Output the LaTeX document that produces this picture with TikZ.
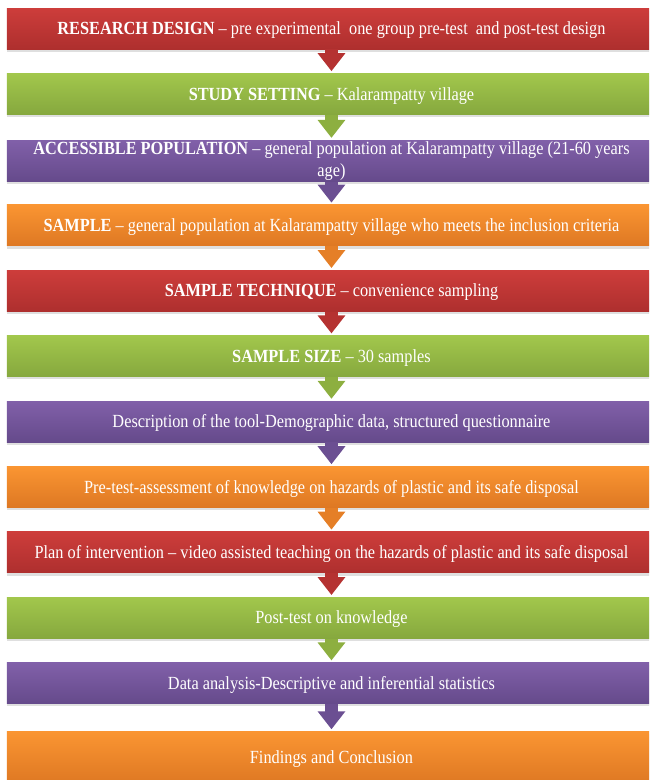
\documentclass[tikz,border=0pt]{standalone}
\usepackage{fontspec}
\setmainfont[FakeStretch=0.88]{Liberation Serif}
\usetikzlibrary{positioning,shadows,arrows.meta}
\definecolor{redtop}{HTML}{CD3D3B}
\definecolor{redbot}{HTML}{AE2F2E}
\definecolor{redarr}{HTML}{B53231}
\definecolor{greentop}{HTML}{A2C74C}
\definecolor{greenbot}{HTML}{86A83E}
\definecolor{greenarr}{HTML}{8DAF40}
\definecolor{purpletop}{HTML}{8160A9}
\definecolor{purplebot}{HTML}{654A8B}
\definecolor{purplearr}{HTML}{6B4F92}
\definecolor{orangetop}{HTML}{FA9532}
\definecolor{orangebot}{HTML}{DE7823}
\definecolor{orangearr}{HTML}{E57F27}

\begin{document}
\begin{tikzpicture}[
box/.style={minimum width=486.75pt, minimum height=30.75pt, inner sep=1pt,
  text=white, align=center, font=\fontsize{13.9pt}{16.5pt}\selectfont,
  text height=9.2pt, text depth=0pt,
  drop shadow={shadow xshift=0pt, shadow yshift=-2pt, opacity=0.25}},
redbox/.style={box, top color=redtop, bottom color=redbot},
greenbox/.style={box, top color=greentop, bottom color=greenbot},
purplebox/.style={box, top color=purpletop, bottom color=purplebot},
orangebox/.style={box, top color=orangetop, bottom color=orangebot},
flow/.style={line width=10pt, shorten >=1.5pt, -{Triangle[width=20pt,length=13.5pt]}},
node distance=17.9pt]
\clip (0,0) rectangle (486.75pt,-585pt);
\node[redbox](s1) at (248.6pt,-21.4pt) {\textbf{RESEARCH DESIGN} -- pre experimental\ \ one group pre-test\ \ and post-test design};
\node[greenbox, below=of s1](s2) {\textbf{STUDY SETTING} -- Kalarampatty village};
\node[purplebox, text height={}, text depth={}, yshift=-1pt, below=of s2](s3) {\textbf{ACCESSIBLE POPULATION} -- general population at Kalarampatty village (21-60 years\\ age)};
\node[orangebox, below=17pt of s3](s4) {\textbf{SAMPLE} -- general population at Kalarampatty village who meets the inclusion criteria};
\node[redbox, below=of s4](s5) {\textbf{SAMPLE TECHNIQUE} -- convenience sampling};
\node[greenbox, below=of s5](s6) {\textbf{SAMPLE SIZE} -- 30 samples};
\node[purplebox, below=of s6](s7) {Description of the tool-Demographic data, structured questionnaire};
\node[orangebox, below=of s7](s8) {Pre-test-assessment of knowledge on hazards of plastic and its safe disposal};
\node[redbox, below=of s8](s9) {Plan of intervention -- video assisted teaching on the hazards of plastic and its safe disposal};
\node[greenbox, below=of s9](s10) {Post-test on knowledge};
\node[purplebox, below=of s10](s11) {Data analysis-Descriptive and inferential statistics};
\node[orangebox, minimum height=39pt, below=20.5pt of s11](s12) {Findings and Conclusion};
\draw[flow, redarr](s1)--(s2);
\draw[flow, greenarr](s2)--(s3);
\draw[flow, purplearr](s3)--(s4);
\draw[flow, orangearr](s4)--(s5);
\draw[flow, redarr](s5)--(s6);
\draw[flow, greenarr](s6)--(s7);
\draw[flow, purplearr](s7)--(s8);
\draw[flow, orangearr](s8)--(s9);
\draw[flow, redarr](s9)--(s10);
\draw[flow, greenarr](s10)--(s11);
\draw[flow, purplearr](s11)--(s12);
\end{tikzpicture}
\end{document}
